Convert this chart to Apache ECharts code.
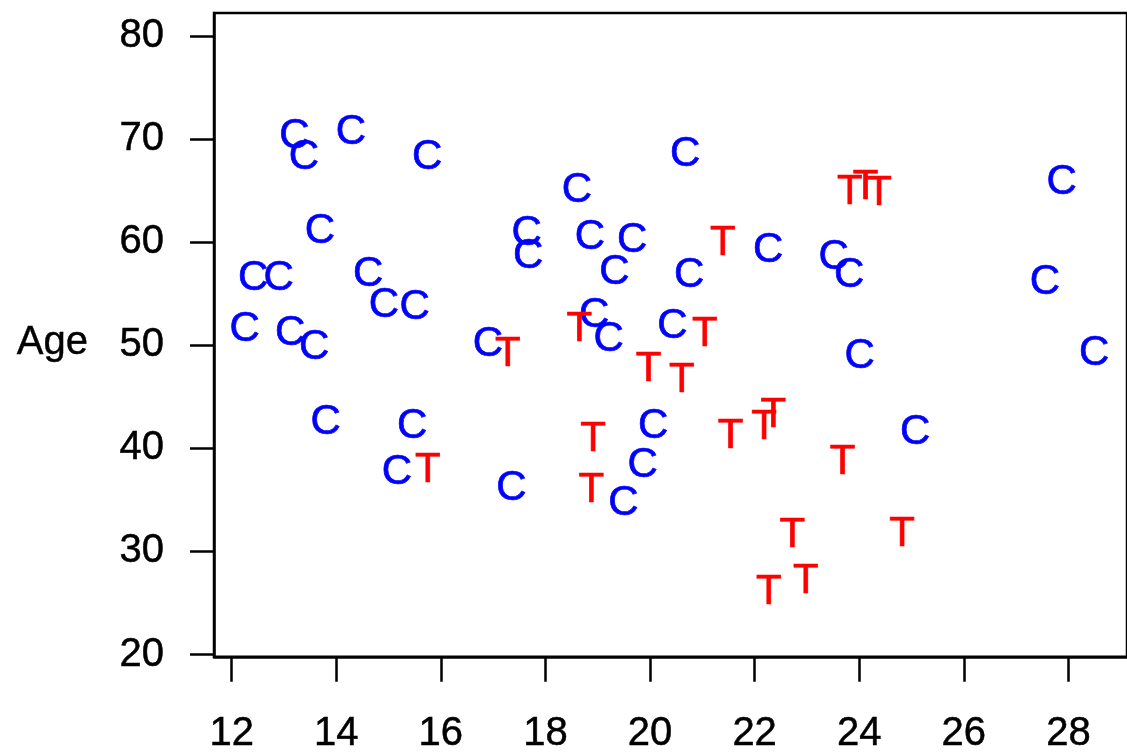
<!DOCTYPE html>
<html>
<head>
<meta charset="utf-8">
<script src="https://cdn.jsdelivr.net/npm/echarts@6/dist/echarts.min.js"></script>
<style>
html,body{margin:0;padding:0;background:#fff;}
#chart{width:1127px;height:754px;}
</style>
</head>
<body>
<div id="chart"></div>
<script>
// Control group (C): [x, Age]
const controlX = [13.20,13.38,14.28,15.74,13.69,12.41,12.90,14.61,14.91,15.50,12.25,13.12,13.58,16.90,13.80,15.45,15.16,17.35,20.67,18.60,17.64,17.67,18.85,19.66,19.32,22.26,20.75,18.93,19.21,20.43,20.06,19.86,19.49,23.51,23.81,24.01,25.07,27.87,27.55,28.49];
const controlAge = [70.50,68.41,70.89,68.48,61.24,56.74,56.71,57.07,54.11,53.85,51.70,51.38,50.03,50.28,42.70,42.37,37.88,36.27,68.74,65.20,61.08,58.86,60.69,60.38,57.32,59.41,57.00,53.14,50.73,52.01,42.37,38.51,34.82,58.77,57.00,49.12,41.74,66.00,56.35,49.45];
// Treatment group (T): [x, Age]
const treatX = [17.28,15.75,18.65,18.91,18.88,19.97,20.61,21.05,21.39,21.54,22.18,22.36,22.72,22.27,22.98,23.68,24.82,23.82,24.12,24.38];
const treatAge = [49.29,38.03,51.70,41.09,36.10,47.84,46.78,51.28,60.06,41.41,42.22,43.43,31.76,26.21,27.27,38.84,31.86,65.00,65.52,64.98];
const xTicks = [12,14,16,18,20,22,24,26,28];
const yTicks = [20,30,40,50,60,70,80];
const yName = 'Age';

const FONT = "'Liberation Sans', Arial, Helvetica, sans-serif";
const chart = echarts.init(document.getElementById('chart'), null, {renderer:'canvas'});

function pts(xs, ys){ return xs.map((x,i)=>[x, ys[i]]); }
function letterSeries(name, data, letter, color){
  return {
    type:'scatter', name:name, data:data,
    symbol:'circle', symbolSize:1,
    itemStyle:{color:'rgba(0,0,0,0)', opacity:1},
    label:{show:true, position:'inside', formatter:letter, color:color, opacity:1,
           fontSize:42, fontFamily:FONT, verticalAlign:'middle', align:'center',
           offset:[0,2], textBorderColor:color, textBorderWidth:0.7},
    emphasis:{disabled:true},
    silent:true, animation:false, z:3
  };
}

chart.setOption({
  animation:false,
  backgroundColor:'#ffffff',
  grid:{left:214, top:13, width:917, height:648, show:true, borderColor:'#000', borderWidth:2.5, backgroundColor:'transparent'},
  xAxis:{
    type:'value', min:11.663, max:29.12,
    splitLine:{show:false},
    axisLine:{show:true, lineStyle:{color:'#000', width:2.5}},
    axisTick:{show:true, inside:false, length:25, customValues:xTicks, lineStyle:{color:'#000', width:2.5}},
    axisLabel:{show:true, customValues:xTicks, margin:57, fontSize:40, color:'#000', fontFamily:FONT,
               textBorderColor:'#000', textBorderWidth:0.5}
  },
  yAxis:{
    type:'value', min:19.78, max:82.27,
    name:'\n' + yName, nameLocation:'middle', nameRotate:0, nameGap:126,
    nameTextStyle:{fontSize:40, color:'#000', fontFamily:FONT, lineHeight:16,
                   textBorderColor:'#000', textBorderWidth:0.4},
    splitLine:{show:false},
    axisLine:{show:true, lineStyle:{color:'#000', width:2.5}},
    axisTick:{show:true, inside:false, length:24, customValues:yTicks, lineStyle:{color:'#000', width:2.5}},
    axisLabel:{show:true, customValues:yTicks, margin:50, fontSize:40, color:'#000', fontFamily:FONT,
               textBorderColor:'#000', textBorderWidth:0.5}
  },
  series:[
    letterSeries('C', pts(controlX, controlAge), 'C', '#0000ff'),
    letterSeries('T', pts(treatX, treatAge), 'T', '#ff0000')
  ]
});
</script>
</body>
</html>
